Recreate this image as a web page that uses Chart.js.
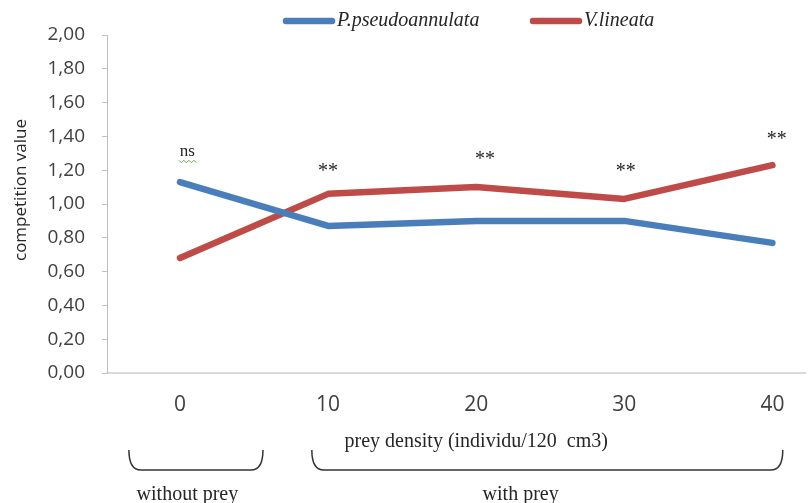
<!DOCTYPE html>
<html>
<head>
<meta charset="utf-8">
<script src="https://cdn.jsdelivr.net/npm/chart.js@4"></script>
<style>
  html, body { margin: 0; padding: 0; background: #fff; overflow: hidden; }
  canvas { display: block; }
</style>
</head>
<body>
<canvas id="chart" width="809" height="503"></canvas>
<script>
// prey density (individu/120 cm3)
const densities = [0, 10, 20, 30, 40];
const seriesNames = ["P.pseudoannulata", "V.lineata"];
const pseudoannulata = [1.13, 0.87, 0.90, 0.90, 0.77];
const lineata = [0.68, 1.06, 1.10, 1.03, 1.23];

// significance marks over each density
const signifText = ["ns", "**", "**", "**", "**"];
const signifX = [0.5, 10, 20.6, 30.1, 40.3];
const signifY = [1.306, 1.22, 1.29, 1.22, 1.41];

// groups under the x axis
const groupNames = ["without prey", "with prey"];
const groupFrom = [-3.45, 8.9];
const groupTo = [5.6, 40.7];
const groupLabelX = [0.5, 23];

const yTickStep = 0.2;
const xAxisTitle = "prey density (individu/120  cm3)";
const yAxisTitle = "competition value";

const blue = "#4a7ebb";
const red = "#be4b48";
const serif = "'Liberation Serif', 'Times New Roman', serif";
const sans = "'Open Sans', 'Liberation Sans', sans-serif";

function pts(values) {
  return densities.map((d, i) => ({ x: d, y: values[i] }));
}

const extras = {
  id: "extras",
  afterDraw(chart) {
    const ctx = chart.ctx;
    const xs = chart.scales.x;
    const ys = chart.scales.y;
    ctx.save();

    // significance marks
    signifText.forEach((t, i) => {
      const px = xs.getPixelForValue(signifX[i]);
      const py = ys.getPixelForValue(signifY[i]);
      ctx.fillStyle = "#262626";
      ctx.textAlign = "center";
      ctx.textBaseline = "alphabetic";
      if (t === "**") {
        ctx.font = "20px " + serif;
        ctx.fillText(t, px, py + 10);
      } else {
        ctx.font = "17px " + serif;
        ctx.fillText(t, px, py + 4);
        // spell check squiggle
        const w = ctx.measureText(t).width;
        ctx.strokeStyle = "#6aa84f";
        ctx.lineWidth = 1;
        ctx.beginPath();
        let x0 = px - w / 2 - 1;
        const yb = py + 8;
        ctx.moveTo(x0, yb);
        let up = true;
        for (let x = x0 + 2.5; x <= px + w / 2 + 2; x += 2.5) {
          ctx.lineTo(x, up ? yb + 2.5 : yb);
          up = !up;
        }
        ctx.stroke();
      }
    });

    // x axis title
    ctx.fillStyle = "#262626";
    ctx.font = "20px " + serif;
    ctx.textAlign = "center";
    ctx.fillText(xAxisTitle, xs.getPixelForValue(20), 447);

    // braces and group names
    ctx.strokeStyle = "#333";
    ctx.lineWidth = 1.5;
    groupNames.forEach((name, i) => {
      const x1 = xs.getPixelForValue(groupFrom[i]);
      const x2 = xs.getPixelForValue(groupTo[i]);
      const top = 450, bot = 470, r = 12;
      ctx.beginPath();
      ctx.moveTo(x1, top);
      ctx.quadraticCurveTo(x1, bot, x1 + r, bot);
      ctx.lineTo(x2 - r, bot);
      ctx.quadraticCurveTo(x2, bot, x2, top);
      ctx.stroke();
      ctx.font = "20px " + serif;
      ctx.fillText(name, xs.getPixelForValue(groupLabelX[i]), 500);
    });

    // y axis title
    ctx.save();
    ctx.translate(21, 190);
    ctx.rotate(-Math.PI / 2);
    ctx.font = "17px " + sans;
    ctx.textBaseline = "middle";
    ctx.fillStyle = "#262626";
    ctx.fillText(yAxisTitle, 0, 0);
    ctx.restore();

    // legend
    const legendX = [283, 530];
    chart.data.datasets.forEach((ds, i) => {
      const lx = legendX[i];
      ctx.strokeStyle = ds.borderColor;
      ctx.lineWidth = 6.5;
      ctx.lineCap = "round";
      ctx.beginPath();
      ctx.moveTo(lx + 3, 21);
      ctx.lineTo(lx + 49, 21);
      ctx.stroke();
      ctx.fillStyle = "#262626";
      ctx.font = "italic 20px " + serif;
      ctx.textAlign = "left";
      ctx.textBaseline = "middle";
      ctx.fillText(ds.label, lx + 54, 21);
    });

    ctx.restore();
  }
};

new Chart(document.getElementById("chart"), {
  type: "line",
  data: {
    datasets: [
      {
        label: seriesNames[0],
        data: pts(pseudoannulata),
        borderColor: blue,
        backgroundColor: blue,
        borderWidth: 6.5,
        borderCapStyle: "round",
        borderJoinStyle: "round",
        pointRadius: 0,
        tension: 0
      },
      {
        label: seriesNames[1],
        data: pts(lineata),
        borderColor: red,
        backgroundColor: red,
        borderWidth: 6.5,
        borderCapStyle: "round",
        borderJoinStyle: "round",
        pointRadius: 0,
        tension: 0
      }
    ]
  },
  options: {
    responsive: false,
    animation: false,
    layout: { padding: { top: 35, right: 4, bottom: 0, left: 0 } },
    plugins: {
      legend: { display: false },
      tooltip: { enabled: false }
    },
    scales: {
      x: {
        type: "linear",
        min: -4.93,
        max: 42.2,
        afterBuildTicks(scale) {
          scale.ticks = densities.map(v => ({ value: v }));
        },
        afterFit(scale) { scale.height = 130; },
        grid: { display: false, drawTicks: false },
        border: { color: "#d9d9d9", width: 2 },
        ticks: {
          padding: 19,
          color: "#404040",
          font: { family: sans, size: 21 },
          callback: v => String(v)
        }
      },
      y: {
        min: 0,
        max: 2,
        afterFit(scale) { scale.width = 107; },
        grid: {
          drawOnChartArea: false,
          drawTicks: true,
          tickLength: 5,
          color: "#bfbfbf"
        },
        border: { color: "#bfbfbf", width: 1 },
        ticks: {
          stepSize: yTickStep,
          padding: 17,
          color: "#404040",
          font: { family: sans, size: 19 },
          callback: v => v.toFixed(2).replace(".", ",")
        }
      }
    }
  },
  plugins: [extras]
});
</script>
</body>
</html>
